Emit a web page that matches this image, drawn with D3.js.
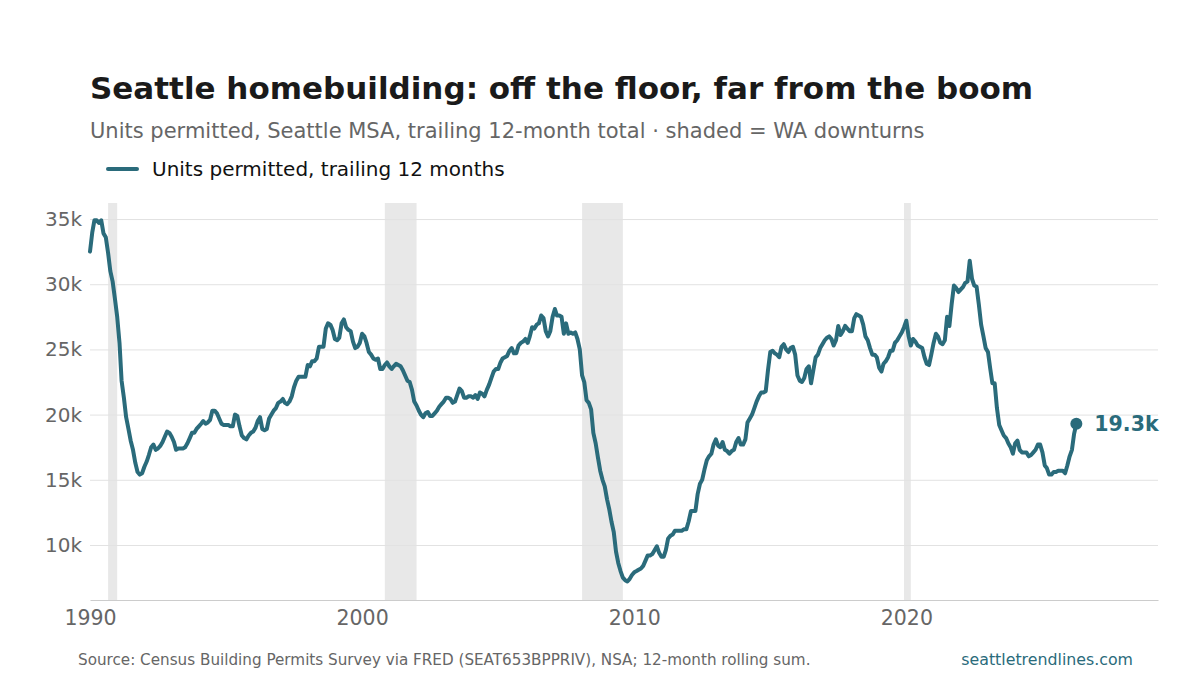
<!DOCTYPE html>
<html>
<head>
<meta charset="utf-8">
<script src="https://cdn.jsdelivr.net/npm/d3@7"></script>
<style>
  body { margin: 0; background: #fff; }
  svg { font-family: "DejaVu Sans", sans-serif; display: block; }
</style>
</head>
<body>
<svg id="chart" width="1200" height="675"></svg>
<script>
// monthly trailing-12 totals, thousands of units, starting Jan 1990
const startYear = 1990;
const units1990s = [
  32.5, 34.0, 34.9, 34.9, 34.7, 34.9, 33.9, 33.6, 32.4, 31.0, 30.2, 28.9,
  27.5, 25.5, 22.6, 21.3, 19.8, 18.9, 18.0, 17.3, 16.3, 15.6, 15.4, 15.5,
  16.0, 16.4, 16.9, 17.5, 17.7, 17.3, 17.4, 17.6, 17.9, 18.3, 18.7, 18.6,
  18.3, 17.9, 17.3, 17.4, 17.4, 17.4, 17.5, 17.8, 18.2, 18.6, 18.6, 18.9,
  19.1, 19.3, 19.5, 19.3, 19.4, 19.6, 20.3, 20.3, 20.1, 19.7, 19.3, 19.2,
  19.2, 19.2, 19.1, 19.1, 20.0, 19.9, 19.1, 18.4, 18.2, 18.1, 18.4, 18.6,
  18.7, 19.0, 19.5, 19.8, 18.9, 18.8, 18.9, 19.7, 20.0, 20.3, 20.5, 20.9,
  21.0, 21.2, 20.9, 20.8, 21.0, 21.4, 22.1, 22.6, 22.9, 22.9, 22.9, 22.9,
  23.8, 23.7, 24.1, 24.1, 24.3, 25.2, 25.2, 25.2, 26.6, 27.0, 26.9, 26.5,
  25.8, 25.7, 25.9, 27.0, 27.3, 26.7, 26.5, 26.4, 25.6, 25.1, 25.2, 25.5
];
const units2000s = [
  26.2, 26.0, 25.5, 24.8, 24.6, 24.3, 24.2, 24.3, 23.5, 23.5, 23.8, 24.0,
  23.7, 23.5, 23.7, 23.9, 23.8, 23.7, 23.4, 23.0, 22.6, 22.5, 21.9, 21.0,
  20.7, 20.3, 20.0, 19.8, 20.1, 20.2, 19.9, 19.9, 20.1, 20.3, 20.6, 20.8,
  21.0, 21.3, 21.3, 21.2, 20.9, 21.0, 21.5, 22.0, 21.8, 21.3, 21.3, 21.4,
  21.4, 21.3, 21.5, 21.2, 21.7, 21.6, 21.4, 21.9, 22.3, 22.8, 23.3, 23.5,
  23.5, 24.0, 24.3, 24.4, 24.5, 24.9, 25.1, 24.7, 24.7, 25.3, 25.5, 25.6,
  25.8, 25.5, 26.0, 26.7, 26.6, 26.9, 27.0, 27.6, 27.4, 26.4, 26.0, 26.4,
  27.5, 28.1, 27.6, 27.6, 27.5, 26.2, 27.0, 26.2, 26.3, 26.2, 26.3, 25.8,
  25.0, 23.0, 22.5, 21.1, 20.9, 20.4, 18.6, 17.8, 16.7, 15.7, 15.0, 14.5,
  13.5, 12.7, 11.8, 11.0, 9.5, 8.6, 8.0, 7.5, 7.3, 7.2, 7.4, 7.7
];
const units2010s = [
  7.9, 8.0, 8.1, 8.2, 8.4, 8.8, 9.2, 9.2, 9.3, 9.6, 9.9, 9.4,
  9.1, 9.1, 9.6, 10.5, 10.7, 10.8, 11.1, 11.1, 11.1, 11.1, 11.2, 11.2,
  11.8, 12.6, 12.6, 12.6, 13.9, 14.7, 15.0, 15.8, 16.5, 16.8, 17.0, 17.7,
  18.1, 17.6, 17.5, 17.9, 17.3, 17.2, 17.0, 17.2, 17.3, 17.9, 18.2, 17.7,
  17.7, 18.1, 19.4, 19.7, 20.0, 20.5, 21.0, 21.4, 21.7, 21.7, 21.8, 23.4,
  24.8, 24.9, 24.7, 24.6, 24.4, 25.2, 25.4, 25.0, 24.8, 25.1, 25.2, 24.6,
  23.0, 22.6, 22.5, 22.8, 23.5, 23.7, 22.4, 23.4, 24.4, 24.6, 25.1, 25.4,
  25.7, 25.9, 26.0, 25.8, 25.3, 25.7, 26.8, 26.1, 26.4, 26.8, 26.6, 26.4,
  26.4, 27.4, 27.7, 27.6, 27.5, 26.9, 26.0, 25.7, 25.1, 24.6, 24.6, 24.4,
  23.6, 23.3, 23.9, 24.1, 24.4, 24.9, 24.9, 25.5, 25.7, 26.0, 26.3, 26.7
];
const units2020s = [
  27.2, 26.0, 25.3, 25.8, 25.6, 25.3, 25.2, 25.1, 24.4, 23.9, 23.8, 24.6,
  25.5, 26.2, 26.0, 25.5, 25.4, 25.7, 27.5, 26.8, 28.5, 29.9, 29.7, 29.4,
  29.6, 29.8, 30.1, 30.2, 31.8, 30.4, 29.9, 29.8, 28.4, 26.9, 26.0, 25.1,
  24.8, 23.5, 22.4, 22.4, 20.5, 19.2, 18.8, 18.4, 18.2, 17.8, 17.5, 17.0,
  17.8, 18.0, 17.3, 17.1, 17.1, 17.1, 16.8, 16.9, 17.1, 17.3, 17.7, 17.7,
  17.1, 16.1, 15.9, 15.4, 15.4, 15.6, 15.6, 15.7, 15.7, 15.7, 15.5, 16.1,
  16.8, 17.3, 18.5, 19.3
];

// WA downturn bands [start, end] as "YYYY-MM"
const downturns = [
  ["1990-09", "1991-01"],
  ["2000-11", "2002-01"],
  ["2008-02", "2009-08"],
  ["2019-12", "2020-03"]
];
const yTicks = [10000, 15000, 20000, 25000, 30000, 35000];
const xTicks = [1990, 2000, 2010, 2020];

const title = "Seattle homebuilding: off the floor, far from the boom";
const subtitle = "Units permitted, Seattle MSA, trailing 12-month total \u00b7 shaded = WA downturns";
const legendLabel = "Units permitted, trailing 12 months";
const source = "Source: Census Building Permits Survey via FRED (SEAT653BPPRIV), NSA; 12-month rolling sum.";
const site = "seattletrendlines.com";

const lineColor = "#2a6b7b";

const values = [].concat(units1990s, units2000s, units2010s, units2020s);
const data = values.map((v, i) => ({
  date: new Date(startYear + Math.floor(i / 12), i % 12, 1),
  value: v * 1000
}));
const parseMonth = d3.timeParse("%Y-%m");

const svg = d3.select("#chart");
const margin = {left: 90, right: 42, top: 203, bottom: 75};
const width = 1200, height = 675;

const last = data[data.length - 1];
const x = d3.scaleTime()
  .domain([new Date(startYear, 0, 1), d3.timeYear.offset(last.date, 3)])
  .range([margin.left, width - margin.right]);
const y = d3.scaleLinear()
  .domain([5780, 36230])
  .range([height - margin.bottom, margin.top]);

// downturn shading
svg.append("g")
  .selectAll("rect")
  .data(downturns)
  .join("rect")
  .attr("x", d => x(parseMonth(d[0])))
  .attr("width", d => x(parseMonth(d[1])) - x(parseMonth(d[0])))
  .attr("y", margin.top)
  .attr("height", y.range()[0] - margin.top)
  .attr("fill", "#e8e8e8");

// y gridlines + labels
const yAxis = svg.append("g")
  .attr("transform", `translate(${margin.left},0)`)
  .call(d3.axisLeft(y).tickValues(yTicks).tickSize(-(width - margin.left - margin.right)).tickPadding(8)
    .tickFormat(d => d / 1000 + "k"));
yAxis.select(".domain").remove();
yAxis.selectAll("line").attr("stroke", "#e2e2e2").attr("stroke-width", 1);
yAxis.selectAll("text").attr("fill", "#666").attr("font-size", 20).attr("font-family", "DejaVu Sans");

// x axis
const xAxis = svg.append("g")
  .attr("transform", `translate(0,${y.range()[0]})`)
  .call(d3.axisBottom(x).tickValues(xTicks.map(yr => new Date(yr, 0, 1))).tickSize(0).tickPadding(10)
    .tickFormat(d3.timeFormat("%Y")));
xAxis.select(".domain").attr("stroke", "#cccccc").attr("stroke-width", 1.2);
xAxis.selectAll("text").attr("fill", "#666").attr("font-size", 20.5).attr("font-family", "DejaVu Sans");

// the line
const line = d3.line()
  .x(d => x(d.date))
  .y(d => y(d.value));
svg.append("path")
  .datum(data)
  .attr("d", line)
  .attr("fill", "none")
  .attr("stroke", lineColor)
  .attr("stroke-width", 4)
  .attr("stroke-linejoin", "round")
  .attr("stroke-linecap", "round");

// endpoint marker + label
svg.append("circle")
  .attr("cx", x(last.date))
  .attr("cy", y(last.value))
  .attr("r", 6)
  .attr("fill", lineColor);
svg.append("text")
  .attr("x", x(last.date) + 18)
  .attr("y", y(last.value) + 7)
  .attr("fill", lineColor)
  .attr("font-size", 20.5)
  .attr("font-weight", "bold")
  .text(d3.format(".1f")(last.value / 1000) + "k");

// titles
svg.append("text")
  .attr("x", 90).attr("y", 99)
  .attr("font-size", 31).attr("font-weight", "bold").attr("fill", "#1a1a1a")
  .text(title);
svg.append("text")
  .attr("x", 90).attr("y", 138)
  .attr("font-size", 21).attr("fill", "#666")
  .text(subtitle);

// legend
svg.append("line")
  .attr("x1", 108).attr("x2", 137).attr("y1", 169).attr("y2", 169)
  .attr("stroke", lineColor).attr("stroke-width", 4).attr("stroke-linecap", "round");
svg.append("text")
  .attr("x", 152).attr("y", 176)
  .attr("font-size", 20).attr("fill", "#111")
  .text(legendLabel);

// footer
svg.append("text")
  .attr("x", 78).attr("y", 665)
  .attr("font-size", 15.2).attr("fill", "#666")
  .text(source);
svg.append("text")
  .attr("x", 1133).attr("y", 665)
  .attr("text-anchor", "end")
  .attr("font-size", 15.8).attr("fill", lineColor)
  .text(site);
</script>
</body>
</html>
